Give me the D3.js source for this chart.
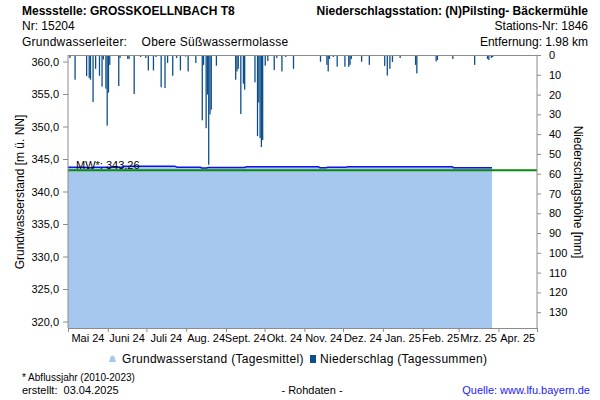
<!DOCTYPE html>
<html lang="de">
<head>
<meta charset="UTF-8">
<title>Grundwasserstand GROSSKOELLNBACH T8</title>
<script src="https://d3js.org/d3.v7.min.js"></script>
<style>
  body { margin: 0; background: #fff; }
  svg text { font-family: "Liberation Sans", Arial, sans-serif; fill: #000; }
</style>
</head>
<body>
<script>

// ---- data ----
let monthLabels = ["Mai 24", "Juni 24", "Juli 24", "Aug. 24", "Sept. 24", "Okt. 24",
    "Nov. 24", "Dez. 24", "Jan. 25", "Feb. 25", "Mrz. 25", "Apr. 25"];
let leftTicks = [320, 325, 330, 335, 340, 345, 350, 355, 360];
let rightTicks = [0, 10, 20, 30, 40, 50, 60, 70, 80, 90, 100, 110, 120, 130];

// groundwater level (daily mean), points where the level changes
let gwDates = ["2024-05-01", "2024-05-14", "2024-05-16", "2024-05-20", "2024-05-21", "2024-06-12",
    "2024-06-14", "2024-07-23", "2024-07-25", "2024-08-12", "2024-08-13", "2024-08-17",
    "2024-08-18", "2024-09-15", "2024-09-17", "2024-11-12", "2024-11-13", "2024-11-18",
    "2024-11-19", "2024-12-03", "2024-12-05", "2025-02-24", "2025-02-25", "2025-03-27"];
let gwLevels = [343.74, 343.74, 343.64, 343.64, 343.74, 343.74,
    343.9, 343.9, 343.74, 343.74, 343.62, 343.62,
    343.7, 343.7, 343.82, 343.82, 343.66, 343.66,
    343.72, 343.72, 343.82, 343.82, 343.67, 343.67];
let meanLevel = 343.26;

// precipitation (daily sums, mm)
let rainDates = ["2024-05-02", "2024-05-06", "2024-05-15", "2024-05-17", "2024-05-18", "2024-05-20",
    "2024-05-22", "2024-05-25", "2024-05-27", "2024-05-28", "2024-05-30", "2024-05-31",
    "2024-06-01", "2024-06-02", "2024-06-09", "2024-06-10", "2024-06-16", "2024-06-17",
    "2024-06-21", "2024-06-26", "2024-06-30", "2024-07-02", "2024-07-06", "2024-07-08",
    "2024-07-12", "2024-07-15", "2024-07-17", "2024-07-21", "2024-07-24", "2024-07-27",
    "2024-07-31", "2024-08-02", "2024-08-08", "2024-08-13", "2024-08-14", "2024-08-16",
    "2024-08-17", "2024-08-18", "2024-08-19", "2024-08-20", "2024-08-24", "2024-09-08",
    "2024-09-09", "2024-09-10", "2024-09-12", "2024-09-14", "2024-09-15", "2024-09-23",
    "2024-09-25", "2024-09-26", "2024-09-27", "2024-09-28", "2024-09-29", "2024-10-01",
    "2024-10-03", "2024-10-08", "2024-10-10", "2024-10-14", "2024-10-17", "2024-10-23",
    "2024-11-13", "2024-11-18", "2024-11-19", "2024-11-20", "2024-11-23", "2024-11-26",
    "2024-12-02", "2024-12-05", "2024-12-06", "2024-12-07", "2024-12-15", "2024-12-21",
    "2025-01-02", "2025-01-04", "2025-01-06", "2025-01-08", "2025-01-14", "2025-01-26",
    "2025-01-27", "2025-02-11", "2025-02-12", "2025-02-24", "2025-03-13", "2025-03-23",
    "2025-03-24", "2025-03-26", "2025-03-27"];
let rainMm = [1.5, 12.5, 10.7, 11.6, 12.5, 23.8,
    7.0, 10.5, 16.0, 2.3, 17.0, 35.7,
    19.0, 5.0, 15.7, 1.5, 2.0, 2.0,
    19.7, 1.0, 1.5, 7.8, 7.8, 1.0,
    16.3, 16.7, 4.0, 10.5, 1.5, 7.8,
    0.8, 8.3, 4.0, 33.0, 5.0, 37.0,
    20.0, 55.5, 30.0, 27.6, 5.4, 12.5,
    8.3, 7.0, 29.8, 14.5, 17.5, 13.8,
    41.0, 24.0, 42.0, 46.5, 43.0, 5.4,
    3.0, 7.6, 1.5, 8.3, 1.0, 7.0,
    3.4, 5.0, 8.3, 2.0, 1.0, 5.9,
    5.9, 6.0, 5.0, 2.0, 3.4, 5.0,
    5.5, 10.4, 7.0, 3.5, 1.5, 5.0,
    9.3, 3.2, 2.5, 2.0, 5.0, 2.0,
    2.5, 1.5, 1.0];

// ---- drawing ----
let width = 600, height = 400;
let plotLeft = 68, plotRight = 537, plotTop = 55, plotBottom = 328;
let axisGrey = "#8c8c8c";
let parse = d3.utcParse("%Y-%m-%d");

let svg = d3.select("body").append("svg")
    .attr("width", width)
    .attr("height", height);

let x = d3.scaleUtc()
    .domain([new Date(Date.UTC(2024, 4, 1)), new Date(Date.UTC(2025, 4, 1))])
    .range([plotLeft, plotRight]);
let yLeft = d3.scaleLinear().domain([319, 361]).range([plotBottom, plotTop]);
let yRight = d3.scaleLinear().domain([0, 138]).range([plotTop, plotBottom]);

let gw = gwDates.map(function (d, i) { return {date: parse(d), level: gwLevels[i]}; });
let rain = rainDates.map(function (d, i) { return {date: parse(d), mm: rainMm[i]}; });

// groundwater area + line
let area = d3.area()
    .x(function (d) { return x(d.date); })
    .y0(yLeft(319))
    .y1(function (d) { return yLeft(d.level); });
svg.append("path").datum(gw)
    .attr("d", area)
    .attr("fill", "#a7c8ee");

// precipitation bars hanging from the top
svg.selectAll("rect.rain")
    .data(rain)
    .enter()
    .append("rect")
    .attr("class", "rain")
    .attr("x", function (d) { return x(d.date); })
    .attr("width", function (d) { return x(d3.utcDay.offset(d.date, 1)) - x(d.date); })
    .attr("y", yRight(0))
    .attr("height", function (d) { return yRight(d.mm) - yRight(0); })
    .attr("fill", "#0c4d8c");

// long-term mean
svg.append("line")
    .attr("x1", plotLeft).attr("x2", plotRight)
    .attr("y1", yLeft(meanLevel)).attr("y2", yLeft(meanLevel))
    .attr("stroke", "#078a07")
    .attr("stroke-width", 2);

let line = d3.line()
    .x(function (d) { return x(d.date); })
    .y(function (d) { return yLeft(d.level); });
svg.append("path").datum(gw)
    .attr("d", line)
    .attr("fill", "none")
    .attr("stroke", "#1010f0")
    .attr("stroke-width", 1.5);

svg.append("text")
    .attr("x", 76).attr("y", 169)
    .style("font-size", "11px")
    .text("MW*: " + meanLevel.toFixed(2));

// axes
let fmtComma = function (d) { return d3.format(".1f")(d).replace(".", ","); };

let gLeft = svg.append("g")
    .attr("transform", "translate(" + plotLeft + ",0)")
    .call(d3.axisLeft(yLeft).tickValues(leftTicks).tickFormat(fmtComma).tickSize(5).tickSizeOuter(0));
let gRight = svg.append("g")
    .attr("transform", "translate(" + plotRight + ",0)")
    .call(d3.axisRight(yRight).tickValues(rightTicks).tickSize(4).tickPadding(8).tickSizeOuter(0));

let monthStarts = d3.utcMonth.range(x.domain()[0], d3.utcDay.offset(x.domain()[1], 1));
let gBottom = svg.append("g")
    .attr("transform", "translate(0," + plotBottom + ")")
    .call(d3.axisBottom(x).tickValues(monthStarts).tickFormat("").tickSize(4).tickSizeOuter(0));

[gLeft, gRight, gBottom].forEach(function (g) {
    g.select(".domain").attr("stroke", axisGrey);
    g.selectAll(".tick line").attr("stroke", axisGrey);
    g.selectAll("text").style("font-size", "11px").attr("fill", "#000")
        .style("font-family", "'Liberation Sans', Arial, sans-serif");
});
gLeft.select(".domain").attr("d", "M0," + plotTop + "V" + plotBottom);
gRight.select(".domain").attr("d", "M0," + plotTop + "V" + plotBottom);
gLeft.selectAll("text").attr("dx", "-1");

// top border of the plot
svg.append("line")
    .attr("x1", plotLeft).attr("x2", plotRight)
    .attr("y1", plotTop + 0.5).attr("y2", plotTop + 0.5)
    .attr("stroke", axisGrey);

// month labels centred between ticks
svg.selectAll("text.month")
    .data(monthStarts.slice(0, 12))
    .enter()
    .append("text")
    .attr("class", "month")
    .attr("x", function (d) { return (x(d) + x(d3.utcMonth.offset(d, 1))) / 2; })
    .attr("y", 342)
    .attr("text-anchor", "middle")
    .style("font-size", "11px")
    .text(function (d, i) { return monthLabels[i]; });

// axis titles
svg.append("text")
    .attr("transform", "translate(24,192) rotate(-90)")
    .attr("text-anchor", "middle")
    .style("font-size", "12px")
    .text("Grundwasserstand [m ü. NN]");
svg.append("text")
    .attr("transform", "translate(574,192) rotate(90)")
    .attr("text-anchor", "middle")
    .style("font-size", "12px")
    .text("Niederschlagshöhe [mm]");

// header
svg.append("text").attr("x", 22).attr("y", 15)
    .style("font-size", "12px").style("font-weight", "bold")
    .text("Messstelle: GROSSKOELLNBACH T8");
svg.append("text").attr("x", 22).attr("y", 30)
    .style("font-size", "12px").text("Nr: 15204");
svg.append("text").attr("x", 22).attr("y", 46)
    .style("font-size", "12px").style("letter-spacing", "0.25px").attr("xml:space", "preserve")
    .text("Grundwasserleiter:    Obere Süßwassermolasse");
svg.append("text").attr("x", 588).attr("y", 15).attr("text-anchor", "end")
    .style("font-size", "12px").style("font-weight", "bold")
    .text("Niederschlagsstation: (N)Pilsting- Bäckermühle");
svg.append("text").attr("x", 588).attr("y", 30).attr("text-anchor", "end")
    .style("font-size", "12px").text("Stations-Nr: 1846");
svg.append("text").attr("x", 588).attr("y", 46).attr("text-anchor", "end")
    .style("font-size", "12px").text("Entfernung: 1.98 km");

// legend
svg.append("path")
    .attr("d", "M109,362 L110.5,357 Q112.5,354 114.5,357 L116,362 Z")
    .attr("fill", "#a7c8ee");
svg.append("text").attr("x", 122).attr("y", 363)
    .style("font-size", "12px").style("letter-spacing", "0.3px")
    .text("Grundwasserstand (Tagesmittel)");
svg.append("rect").attr("x", 310).attr("y", 355).attr("width", 6).attr("height", 8)
    .attr("fill", "#0c4d8c");
svg.append("text").attr("x", 320).attr("y", 363)
    .style("font-size", "12px").style("letter-spacing", "0.3px")
    .text("Niederschlag (Tagessummen)");

// footer
svg.append("text").attr("x", 22).attr("y", 381)
    .style("font-size", "10px").text("* Abflussjahr (2010-2023)");
svg.append("text").attr("x", 22).attr("y", 394).attr("xml:space", "preserve")
    .style("font-size", "11px").text("erstellt:  03.04.2025");
svg.append("text").attr("x", 312).attr("y", 394).attr("text-anchor", "middle")
    .style("font-size", "11px").text("- Rohdaten -");
svg.append("text").attr("x", 590).attr("y", 394).attr("text-anchor", "end")
    .style("font-size", "11px").style("fill", "#1a1aff").text("Quelle: www.lfu.bayern.de");

</script>
</body>
</html>
